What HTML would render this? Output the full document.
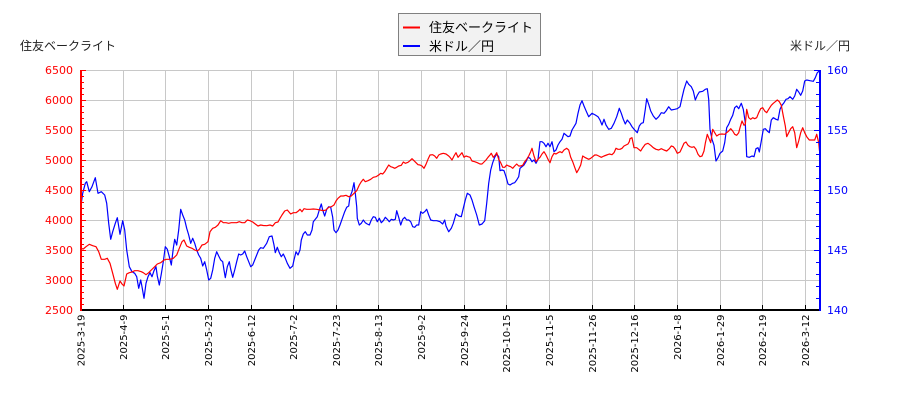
<!DOCTYPE html>
<html>
<head>
<meta charset="utf-8">
<style>
html,body{margin:0;padding:0;background:#fff;}
svg{display:block;}
.num{font-family:"DejaVu Sans","Liberation Sans",sans-serif;}
.jp{font-family:"Liberation Sans","Noto Sans CJK JP",sans-serif;}
</style>
</head>
<body>
<svg width="900" height="400" viewBox="0 0 900 400" xmlns="http://www.w3.org/2000/svg">
<rect x="0" y="0" width="900" height="400" fill="#fff"/>
<!-- grid -->
<g stroke="#c8c8c8" stroke-width="1" fill="none">
<line x1="81" y1="70.5" x2="820" y2="70.5"/>
<line x1="81" y1="100.5" x2="820" y2="100.5"/>
<line x1="81" y1="130.5" x2="820" y2="130.5"/>
<line x1="81" y1="160.5" x2="820" y2="160.5"/>
<line x1="81" y1="190.5" x2="820" y2="190.5"/>
<line x1="81" y1="220.5" x2="820" y2="220.5"/>
<line x1="81" y1="250.5" x2="820" y2="250.5"/>
<line x1="81" y1="280.5" x2="820" y2="280.5"/>
<line x1="123.5" y1="70" x2="123.5" y2="310"/>
<line x1="165.5" y1="70" x2="165.5" y2="310"/>
<line x1="208.5" y1="70" x2="208.5" y2="310"/>
<line x1="251.5" y1="70" x2="251.5" y2="310"/>
<line x1="293.5" y1="70" x2="293.5" y2="310"/>
<line x1="336.5" y1="70" x2="336.5" y2="310"/>
<line x1="378.5" y1="70" x2="378.5" y2="310"/>
<line x1="421.5" y1="70" x2="421.5" y2="310"/>
<line x1="464.5" y1="70" x2="464.5" y2="310"/>
<line x1="506.5" y1="70" x2="506.5" y2="310"/>
<line x1="549.5" y1="70" x2="549.5" y2="310"/>
<line x1="592.5" y1="70" x2="592.5" y2="310"/>
<line x1="634.5" y1="70" x2="634.5" y2="310"/>
<line x1="677.5" y1="70" x2="677.5" y2="310"/>
<line x1="720.5" y1="70" x2="720.5" y2="310"/>
<line x1="762.5" y1="70" x2="762.5" y2="310"/>
<line x1="805.5" y1="70" x2="805.5" y2="310"/>
</g>

<!-- series -->
<polyline fill="none" stroke="#0000ff" stroke-width="1.2" stroke-linejoin="round" points="81.3,203.3 82.7,193.3 85.3,183.3 86.7,181.7 89.3,191.7 92,186.7 95.3,177.7 98,193.3 101.3,191.7 104.7,195 106.7,203.3 108.7,223.3 110.7,239.3 112.7,231.7 115.3,223.3 117.3,217.7 120,234.3 122.7,220.7 124.7,230 126.7,250 129.3,266.7 132,271.7 134.7,273.3 136.7,276.7 138.7,288.3 140.7,280 142,286.7 144,298.3 146,283.3 148,276.7 150,272.7 152,276.7 154,270.7 156,266.7 157.3,276 159.3,285 161.3,274 163.3,261.7 165.3,246.7 167.3,249.3 169.3,256.7 171.3,265 173.3,248.3 174.7,239.3 176.7,245 178.7,230 180.7,209.3 182.7,215 184.7,220 186.7,228.3 188.7,235 190.7,243.3 192.7,238.3 194.7,243.3 196.7,250 198.7,255 200.7,258.3 202.7,266 204.7,261.7 206.7,270 208.7,280 210.7,278.3 212.7,270 214.7,258.3 216.7,251.7 218.7,256 220.7,260 222.7,261.7 224,270 225.3,277.7 227.3,266.7 229.3,261.7 230.7,269.3 232.7,277.3 234.7,270 236.7,261.7 238.7,254 240.7,255 242.7,254 244.7,251 246.7,256.7 248.7,261.7 250.7,266.7 252.7,265 254.7,260 256.7,255 258.7,250 260.7,247.7 263.3,248.3 266.7,243.3 269.3,236.7 272,236 274,245 275.3,252.7 277.3,247.3 279.3,252.7 281.3,256.7 283.3,254 285.3,258.3 287.3,263.3 290,268.3 292.7,266 294,260 296,251.7 298,255 300,250 301.3,240 303.3,234 305.3,231.7 307.3,235 310,235 312,230 313.3,221.7 315.3,219.3 317.3,216.7 319.3,210 321.3,204 322.7,210 324.7,216 326.7,209.3 328.7,206.7 330.7,207.3 332.7,217.3 334,230 336,232.7 338,230 340,225 342,219.3 344.7,211.7 346.7,207.3 348.7,206 350,196.7 352,191.7 354,182.7 355.3,193.3 356.7,206.7 357.3,218.3 359.3,225 361.3,223.3 363.3,220 365.3,222.7 367.3,224 369.3,225 371.3,220 373.3,216.7 375.3,217.3 377.3,221.7 379.3,218.3 381.3,222.7 383.3,220.7 385.3,217.3 387.3,219.3 389.3,221.7 391.3,219.3 393.3,220 395.3,219.3 396.7,210.7 398.7,217.3 400.7,225 402.7,219.3 404.7,217.3 406.7,220 408.7,220 410.7,221.7 412.7,226.7 414.7,227.3 416.7,225 418.7,225 420.7,211.7 422.7,213.3 424.7,211.7 426.7,209.3 428.7,215 430.7,220 433.3,220.7 436.7,220.7 440,221.7 442.7,224 444.7,220 446,226 448.7,231.7 451.3,228.3 453.3,223.3 456,214 458.7,216 461.3,216.7 463.3,208.3 465.3,200 467.3,193.3 470,195 472,200 474,206.7 476.7,215 479.3,225 482,224 484.7,220.7 486.7,203.3 488.7,183.3 490.7,170 492.7,162.7 494.7,157.3 496.7,154 498.7,156.7 500,170.7 502,170 504,170.7 506,176.7 508,184 510,185 512.7,183.3 514.7,182.7 516.7,180 518.7,176.7 520,168.3 522,166.7 524,165 526,161.7 528,157.3 530,158.3 532,161.7 534,160 536,163.3 538,159.3 540,141.7 542,141.7 544,143.3 546,146.7 548,143.3 550,146.7 552,141.7 554,151.7 556,150 558,145 560,141.7 562,139.3 564,133.3 566,135 568,136.7 570,136 572,130 574,126.7 576,123.3 578,113.3 580,105 582,100.7 584,106 586,110.7 588.7,116.7 592,113.3 595.3,115 598,116.7 600,120 602,125 604,119.3 606,125 608.7,129.3 611.3,128.3 614,123.3 616.7,116.7 619.3,108.3 621.3,113.3 623.3,119.3 625.3,124 627.3,120 630,123.3 632,126.7 634.7,130 637.3,132.7 639.3,126 641.3,123.3 643.3,122.7 645.3,109.3 646.7,98.7 648.7,104.3 650.7,111 653.3,116 656,119.3 658.7,116.7 661.3,112.7 664,113.3 666,111 668.7,106.7 671.3,110 674.7,109.3 677.3,108.7 680,106.7 682,97.7 684,89.3 686.7,81 688.7,84.3 691.3,86.7 693.3,91 695.3,100 697.3,95.3 699.3,92 702.7,91.3 705.3,89.3 707.3,88.7 708.7,99.3 710,129.3 712,139.3 714,145.3 716,161 718,157.7 720,153.3 722.7,151 724.7,142.7 726.7,127.7 728.7,124.3 730.7,119.3 732.7,115.3 734.7,107.7 736.7,106 738.7,108.7 741.3,103.3 743.3,109.3 745.3,122.7 746.7,156.7 749.3,157.3 752,156 754,156.7 756,148.7 758,147.7 759.3,152 761.3,141 763.3,129.3 765.3,128.7 767.3,131 769.3,132.7 771.3,120 773.3,117.7 776,119.3 778,120 780,109.3 782,105.3 784,102.7 786,99.3 788,98.7 790,96.7 792.7,99.3 794.7,96 796.7,89.3 798.7,92 800.7,95.3 802.7,91 804.7,81 806.7,80 810,80.7 813.3,81.3 815.3,77.7 817.3,72.7 819.3,71"/>
<polyline fill="none" stroke="#ff0000" stroke-width="1.2" stroke-linejoin="round" points="80.7,248.3 83.3,249 86,246.7 89.3,244.3 92.7,245.7 96,246.7 98.7,251.7 101.3,259.3 104.7,259.3 107.3,258.3 110,263.3 112.7,273.3 115.3,283.3 117.3,289.3 120,281 122,284 124,286 126.7,274 129.3,272.7 132,272 134.7,270.7 138,270.7 141.3,271.7 143.3,272.7 146,274.7 148.7,272.7 151.3,270 154.7,266.7 157.3,264 160.7,262.7 164,260 166.7,259.3 170,259.3 173.3,258.3 176.7,255 179.3,248.3 182,241.7 184,240 186.7,246 189.3,247.3 192,248.3 194.7,250 197.3,251 199.3,249.3 202,245 204.7,244.3 208,241.7 210,231.7 212.7,228.3 215.3,227.3 218,225 220.7,220.7 223.3,222.7 226,222.7 228.7,223.3 231.3,222.7 234,222.7 236.7,222.7 239.3,221.7 242,222.7 244.7,222.7 247.3,220 250,220.7 252.7,222 255.3,224 258,226 260.7,225 263.3,225.5 266.7,225.7 270,225 272.7,226 275.3,222.7 278,222 280,218.3 282,215 284.7,211 287.3,210 290.7,214 293.3,212.7 296,212.7 298,211.3 300,209.3 302,211.7 304,208.7 306.7,209.3 310,209.3 313.3,209 316.7,209.3 320,210 323.3,210.7 326,210 328.7,207.3 331.3,206.7 334,205 336,201 338,198.3 340.7,196 343.3,196 346,195.3 348.7,196.7 351.3,196 354,193.3 356.7,190.7 359.3,185 361.3,181.7 363.3,179.3 365.3,181.7 368,180.7 370.7,179.3 373.3,177.3 376,176.7 378.7,175 380.7,173.3 382.7,174 384.7,171.7 386.7,168.3 388.7,165 390.7,166.7 392.7,167.3 394.7,168.3 396.7,167.3 398.7,166 401.3,165.3 403.3,162 405.3,163.3 408,162.3 410,160.7 412,158.7 414,160.7 416,162.7 418,164.7 420,165 422,166 424,168.3 426,164.3 428,159.3 430,155 432.7,154.7 434.7,156 436.7,158.3 438.7,155 440.7,154 443.3,153.3 446,154 448.7,156 450,157.3 452,160 454,156 456,152.7 458,157.3 460,155 462,152.7 464,157.3 466,156 468,156.7 470,157.3 472,161 474.7,161.7 477.3,162.7 480,164 482,164 484,162 486,160 488,157.3 490,155 491.3,153.3 493.3,157.3 495.3,155 496.7,152.7 498.7,159.3 500.7,162.7 502.7,167.3 504.7,167.3 506.7,165 508.7,166 510.7,166.7 512.7,168.3 514.7,166 516.7,164 518.7,166 520.7,166 522.7,165.3 524.7,161.7 526.7,159.3 528.7,156 530.7,151.7 532,148.3 534,156 536,161.7 538,159.3 540,157.3 542,154 544,151.7 546,155 548,159.3 550,162.7 552,156.7 554,153.3 556,154 558,152.7 560,151.7 562,152.7 564,150 566.7,148.3 568.7,150 570.7,157.3 572.7,161.7 574.7,167.3 576.7,172.7 578.7,169.3 580.7,165 582.7,156 584.7,157.3 586.7,158.3 588.7,159.3 590.7,158.3 592.7,156.7 594.7,155 596.7,155 598.7,156 601.3,157.3 604,156 606.7,155 609.3,154 612,154.7 614,152.7 616,148.3 618,149.3 620,149.3 622,148.3 624,146 626,145 628,144 629.3,141.7 630,138.7 632,137.7 634,147.7 636.7,147.7 638.7,149.3 640.7,151 642.7,147.7 645.3,144.3 648,143.3 650.7,145.3 653.3,147.7 656,149.3 658.7,150 661.3,148.7 664,150 666.7,151 669.3,148.7 671.3,146 673.3,146.7 675.3,149.3 677.3,153.3 680,152 682,147.7 684,143.3 686,142 688,145.3 690,146.7 692,147.3 694,146.7 696,149.3 698,154.3 700,156.7 702,156 704,151 705.3,143.3 707.3,134.3 709.3,139.3 710.7,142.7 712.7,129.3 714.7,132.7 716.7,136 719.3,134.3 722,134 724.7,134.3 726.7,132.7 728.7,131 730.7,128.7 732.7,131 734.7,134.3 736.7,135.3 738.7,132.7 740,127.7 742,121 744,125.3 745.3,124.3 746.7,109.3 748.7,117.7 750.7,119.3 752.7,117.7 754.7,118.7 756.7,117.7 758.7,112.7 760.7,108.7 762.7,107.7 764.7,111 766.7,112.7 768.7,109.3 771.3,105.3 773.3,103.3 775.3,101.7 777.3,100 779.3,101.7 781.3,105.3 783.3,116 785.3,126 786.7,136.7 788.7,132.7 790.7,128.7 792.7,126.7 794.7,132.7 796.7,147.7 798.7,141 800.7,132.7 802.7,127.7 804.7,132.7 806.7,136.7 809.3,140 812,140 814.7,140 816.7,134.3 818.7,142.7 819.5,151"/>

<!-- bottom axis -->
<line x1="80" y1="310" x2="821" y2="310" stroke="#000" stroke-width="2"/>
<g stroke="#000" stroke-width="1">
<line x1="123.5" y1="305" x2="123.5" y2="310"/>
<line x1="165.5" y1="305" x2="165.5" y2="310"/>
<line x1="208.5" y1="305" x2="208.5" y2="310"/>
<line x1="251.5" y1="305" x2="251.5" y2="310"/>
<line x1="293.5" y1="305" x2="293.5" y2="310"/>
<line x1="336.5" y1="305" x2="336.5" y2="310"/>
<line x1="378.5" y1="305" x2="378.5" y2="310"/>
<line x1="421.5" y1="305" x2="421.5" y2="310"/>
<line x1="464.5" y1="305" x2="464.5" y2="310"/>
<line x1="506.5" y1="305" x2="506.5" y2="310"/>
<line x1="549.5" y1="305" x2="549.5" y2="310"/>
<line x1="592.5" y1="305" x2="592.5" y2="310"/>
<line x1="634.5" y1="305" x2="634.5" y2="310"/>
<line x1="677.5" y1="305" x2="677.5" y2="310"/>
<line x1="720.5" y1="305" x2="720.5" y2="310"/>
<line x1="762.5" y1="305" x2="762.5" y2="310"/>
<line x1="805.5" y1="305" x2="805.5" y2="310"/>
</g>

<!-- left axis -->
<line x1="81" y1="70" x2="81" y2="311" stroke="#ff0000" stroke-width="2"/>
<g stroke="#ff0000" stroke-width="1">
<line x1="82" y1="70.5" x2="86" y2="70.5"/>
<line x1="82" y1="100.5" x2="86" y2="100.5"/>
<line x1="82" y1="130.5" x2="86" y2="130.5"/>
<line x1="82" y1="160.5" x2="86" y2="160.5"/>
<line x1="82" y1="190.5" x2="86" y2="190.5"/>
<line x1="82" y1="220.5" x2="86" y2="220.5"/>
<line x1="82" y1="250.5" x2="86" y2="250.5"/>
<line x1="82" y1="280.5" x2="86" y2="280.5"/>
<line x1="82" y1="76.5" x2="84" y2="76.5"/><line x1="82" y1="82.5" x2="84" y2="82.5"/><line x1="82" y1="88.5" x2="84" y2="88.5"/><line x1="82" y1="94.5" x2="84" y2="94.5"/>
<line x1="82" y1="106.5" x2="84" y2="106.5"/><line x1="82" y1="112.5" x2="84" y2="112.5"/><line x1="82" y1="118.5" x2="84" y2="118.5"/><line x1="82" y1="124.5" x2="84" y2="124.5"/>
<line x1="82" y1="136.5" x2="84" y2="136.5"/><line x1="82" y1="142.5" x2="84" y2="142.5"/><line x1="82" y1="148.5" x2="84" y2="148.5"/><line x1="82" y1="154.5" x2="84" y2="154.5"/>
<line x1="82" y1="166.5" x2="84" y2="166.5"/><line x1="82" y1="172.5" x2="84" y2="172.5"/><line x1="82" y1="178.5" x2="84" y2="178.5"/><line x1="82" y1="184.5" x2="84" y2="184.5"/>
<line x1="82" y1="196.5" x2="84" y2="196.5"/><line x1="82" y1="202.5" x2="84" y2="202.5"/><line x1="82" y1="208.5" x2="84" y2="208.5"/><line x1="82" y1="214.5" x2="84" y2="214.5"/>
<line x1="82" y1="226.5" x2="84" y2="226.5"/><line x1="82" y1="232.5" x2="84" y2="232.5"/><line x1="82" y1="238.5" x2="84" y2="238.5"/><line x1="82" y1="244.5" x2="84" y2="244.5"/>
<line x1="82" y1="256.5" x2="84" y2="256.5"/><line x1="82" y1="262.5" x2="84" y2="262.5"/><line x1="82" y1="268.5" x2="84" y2="268.5"/><line x1="82" y1="274.5" x2="84" y2="274.5"/>
<line x1="82" y1="286.5" x2="84" y2="286.5"/><line x1="82" y1="292.5" x2="84" y2="292.5"/><line x1="82" y1="298.5" x2="84" y2="298.5"/><line x1="82" y1="304.5" x2="84" y2="304.5"/>
</g>

<!-- right axis -->
<line x1="820" y1="70" x2="820" y2="311" stroke="#0000ff" stroke-width="2"/>
<g stroke="#0000ff" stroke-width="1">
<line x1="814" y1="70.5" x2="819" y2="70.5"/>
<line x1="814" y1="130.5" x2="819" y2="130.5"/>
<line x1="814" y1="190.5" x2="819" y2="190.5"/>
<line x1="814" y1="250.5" x2="819" y2="250.5"/>
<line x1="816" y1="82.5" x2="819" y2="82.5"/><line x1="816" y1="94.5" x2="819" y2="94.5"/><line x1="816" y1="106.5" x2="819" y2="106.5"/><line x1="816" y1="118.5" x2="819" y2="118.5"/>
<line x1="816" y1="142.5" x2="819" y2="142.5"/><line x1="816" y1="154.5" x2="819" y2="154.5"/><line x1="816" y1="166.5" x2="819" y2="166.5"/><line x1="816" y1="178.5" x2="819" y2="178.5"/>
<line x1="816" y1="202.5" x2="819" y2="202.5"/><line x1="816" y1="214.5" x2="819" y2="214.5"/><line x1="816" y1="226.5" x2="819" y2="226.5"/><line x1="816" y1="238.5" x2="819" y2="238.5"/>
<line x1="816" y1="262.5" x2="819" y2="262.5"/><line x1="816" y1="274.5" x2="819" y2="274.5"/><line x1="816" y1="286.5" x2="819" y2="286.5"/><line x1="816" y1="298.5" x2="819" y2="298.5"/>
</g>

<!-- left labels -->
<g class="num" font-size="11" fill="#ff0000" text-anchor="end">
<text x="73" y="74">6500</text>
<text x="73" y="104">6000</text>
<text x="73" y="134">5500</text>
<text x="73" y="164">5000</text>
<text x="73" y="194">4500</text>
<text x="73" y="224">4000</text>
<text x="73" y="254">3500</text>
<text x="73" y="284">3000</text>
<text x="73" y="314">2500</text>
</g>
<!-- right labels -->
<g class="num" font-size="11" fill="#0000ff" text-anchor="start">
<text x="827" y="74">160</text>
<text x="827" y="134">155</text>
<text x="827" y="194">150</text>
<text x="827" y="254">145</text>
<text x="827" y="314">140</text>
</g>

<!-- date labels -->
<g class="num" font-size="10" fill="#000" text-anchor="end">
<text transform="translate(84.6,314.5) rotate(-90)">2025-3-19</text>
<text transform="translate(127.1,314.5) rotate(-90)">2025-4-9</text>
<text transform="translate(169.1,314.5) rotate(-90)">2025-5-1</text>
<text transform="translate(212.1,314.5) rotate(-90)">2025-5-23</text>
<text transform="translate(255.1,314.5) rotate(-90)">2025-6-12</text>
<text transform="translate(297.1,314.5) rotate(-90)">2025-7-2</text>
<text transform="translate(340.1,314.5) rotate(-90)">2025-7-23</text>
<text transform="translate(382.1,314.5) rotate(-90)">2025-8-13</text>
<text transform="translate(425.1,314.5) rotate(-90)">2025-9-2</text>
<text transform="translate(468.1,314.5) rotate(-90)">2025-9-24</text>
<text transform="translate(510.1,314.5) rotate(-90)">2025-10-15</text>
<text transform="translate(553.1,314.5) rotate(-90)">2025-11-5</text>
<text transform="translate(596.1,314.5) rotate(-90)">2025-11-26</text>
<text transform="translate(638.1,314.5) rotate(-90)">2025-12-16</text>
<text transform="translate(681.1,314.5) rotate(-90)">2026-1-8</text>
<text transform="translate(724.1,314.5) rotate(-90)">2026-1-29</text>
<text transform="translate(766.1,314.5) rotate(-90)">2026-2-19</text>
<text transform="translate(809.1,314.5) rotate(-90)">2026-3-12</text>
</g>

<!-- axis titles -->
<text class="jp" x="20" y="50" font-size="12" fill="#222">住友ベークライト</text>
<text class="jp" x="850" y="50" font-size="12" fill="#222" text-anchor="end">米ドル／円</text>

<!-- legend -->
<rect x="398.5" y="13.5" width="142" height="42" fill="#f2f2f2" stroke="#808080" stroke-width="1"/>
<line x1="403" y1="27.5" x2="420" y2="27.5" stroke="#ff0000" stroke-width="2"/>
<line x1="403" y1="46" x2="420" y2="46" stroke="#0000ff" stroke-width="2"/>
<text class="jp" x="429" y="32" font-size="13" fill="#000">住友ベークライト</text>
<text class="jp" x="429" y="51" font-size="13" fill="#000">米ドル／円</text>
</svg>
</body>
</html>
